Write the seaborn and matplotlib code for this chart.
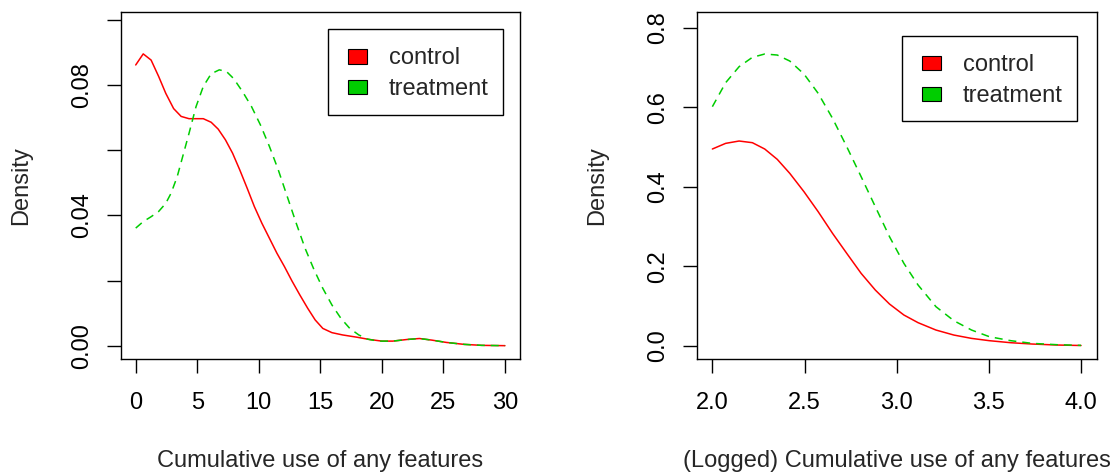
import numpy as np
import pandas as pd
import matplotlib
matplotlib.use("Agg")
import matplotlib.pyplot as plt
import matplotlib.patches as mpatches
from matplotlib.legend_handler import HandlerPatch
import seaborn as sns

# ---------------- data ----------------
raw_x_control = [0.0, 0.61, 1.25, 1.86, 2.44, 3.08, 3.69, 4.33, 4.9, 5.49, 6.13, 6.7, 7.29,
                 7.87, 8.45, 9.06, 9.64, 10.25, 10.86, 11.47, 12.08, 12.69, 13.33, 13.97,
                 14.58, 15.2, 15.94, 16.8, 17.97, 18.99, 20.0, 20.88, 22.04, 23.05, 24.07,
                 25.23, 26.68, 28.1, 30.0]
raw_y_control = [0.0862, 0.0896, 0.0877, 0.0827, 0.0775, 0.0728, 0.0704, 0.0697, 0.0697,
                 0.0697, 0.0686, 0.0665, 0.0632, 0.0591, 0.0540, 0.0483, 0.0427, 0.0376,
                 0.0330, 0.0284, 0.0243, 0.0199, 0.0156, 0.0115, 0.0079, 0.0053, 0.0040,
                 0.0033, 0.0026, 0.0019, 0.0014, 0.0014, 0.0019, 0.0022, 0.0017, 0.0010,
                 0.0004, 0.0001, 0.0000]
raw_x_treatment = [0.0, 0.61, 1.25, 1.86, 2.44, 2.87, 3.37, 3.89, 4.33, 4.9, 5.49, 6.13,
                   6.79, 7.37, 7.96, 8.68, 9.41, 10.13, 10.86, 11.58, 12.31, 13.04, 13.76,
                   14.49, 15.2, 15.94, 16.67, 17.39, 18.12, 18.84, 19.71, 20.88, 22.04,
                   23.05, 24.07, 25.23, 26.68, 28.1, 30.0]
raw_y_treatment = [0.0361, 0.0381, 0.0396, 0.0412, 0.0437, 0.0468, 0.0519, 0.0591, 0.0652,
                   0.0734, 0.0796, 0.0835, 0.0847, 0.0842, 0.0820, 0.0780, 0.0734, 0.0678,
                   0.0612, 0.0540, 0.0458, 0.0376, 0.0299, 0.0233, 0.0176, 0.0125, 0.0084,
                   0.0053, 0.0033, 0.0020, 0.0014, 0.0014, 0.0019, 0.0022, 0.0017, 0.0010,
                   0.0004, 0.0001, 0.0000]

log_x = [2.0, 2.072, 2.145, 2.217, 2.284, 2.352, 2.42, 2.497, 2.574, 2.652, 2.729, 2.807,
         2.884, 2.961, 3.039, 3.116, 3.213, 3.31, 3.406, 3.503, 3.619, 3.735, 3.87, 4.0]
log_y_control = [0.4948, 0.5090, 0.5149, 0.5107, 0.4948, 0.4688, 0.4335, 0.3874, 0.3371,
                 0.2826, 0.2323, 0.1820, 0.1400, 0.1048, 0.0772, 0.0579, 0.0394, 0.0268,
                 0.0184, 0.0126, 0.0075, 0.0042, 0.0017, 0.0005]
log_y_treatment = [0.6013, 0.6616, 0.7019, 0.7254, 0.7338, 0.7312, 0.7161, 0.6834, 0.6348,
                   0.5719, 0.5006, 0.4252, 0.3497, 0.2742, 0.2071, 0.1526, 0.0981, 0.0629,
                   0.0394, 0.0226, 0.0126, 0.0059, 0.0025, 0.0008]

groups = ["control", "treatment"]
left_xticks = [0, 5, 10, 15, 20, 25, 30]
left_yticks = [0.00, 0.02, 0.04, 0.06, 0.08, 0.10]
left_yticklabels = ["0.00", "", "0.04", "", "0.08", ""]
right_xticks = [2.0, 2.5, 3.0, 3.5, 4.0]
right_xticklabels = ["2.0", "2.5", "3.0", "3.5", "4.0"]
right_yticks = [0.0, 0.2, 0.4, 0.6, 0.8]
right_yticklabels = ["0.0", "0.2", "0.4", "0.6", "0.8"]
xlabel_left = "Cumulative use of any features"
xlabel_right = "(Logged) Cumulative use of any features"
ylabel = "Density"

colors = {"control": "#FF0000", "treatment": "#00CD00"}

# ---------------- style ----------------
sns.set_style("white")
plt.rcParams["font.family"] = ["Liberation Sans", "DejaVu Sans"]
FS = 17

W, H = 1117, 475
fig = plt.figure(figsize=(W / 100, H / 100), dpi=100)

def px_axes(l, t, r, b):
    return fig.add_axes([l / W, 1 - b / H, (r - l) / W, (b - t) / H])

axL = px_axes(120.7, 12.3, 520.0, 358.7)
axR = px_axes(696.7, 12.3, 1096.7, 358.7)

dfL = pd.concat([
    pd.DataFrame({"x": raw_x_control, "y": raw_y_control, "group": "control"}),
    pd.DataFrame({"x": raw_x_treatment, "y": raw_y_treatment, "group": "treatment"}),
])
dfR = pd.concat([
    pd.DataFrame({"x": log_x, "y": log_y_control, "group": "control"}),
    pd.DataFrame({"x": log_x, "y": log_y_treatment, "group": "treatment"}),
])

LW = 1.1

def square_handle(legend, orig_handle, xdescent, ydescent, width, height, fontsize):
    w, h = 13.0, 10.1
    return mpatches.Rectangle((width - xdescent - w, (height - h) / 2 - ydescent), w, h)

def draw(ax, df, xlim, ylim, xticks, xtl, yticks, ytl, xlabel, leg_anchor):
    for g in groups:
        sub = df[df["group"] == g]
        sns.lineplot(data=sub, x="x", y="y", ax=ax, color=colors[g], linewidth=LW,
                     linestyle="-" if g == "control" else (0, (5.2, 3.9)),
                     estimator=None, sort=False, legend=False)
    ax.set_xlim(*xlim)
    ax.set_ylim(*ylim)
    ax.set_xticks(xticks)
    ax.set_xticklabels(xtl, fontsize=FS)
    ax.set_yticks(yticks)
    ax.set_yticklabels(ytl, fontsize=FS, rotation=90, va="center")
    ax.tick_params(axis="both", direction="out", length=10.3, width=1.0, color="black",
                   labelcolor="black")
    ax.tick_params(axis="x", pad=14.0, bottom=True)
    ax.tick_params(axis="y", pad=9.5, left=True)
    for s in ax.spines.values():
        s.set_visible(True)
        s.set_color("black")
        s.set_linewidth(1.0)
    ax.set_xlabel(xlabel, fontsize=FS, va="center")
    ax.xaxis.set_label_coords(0.5, (358.7 - 461.0) / 346.4)
    ax.set_ylabel(ylabel, fontsize=FS, va="center", ha="center")
    ax.yaxis.set_label_coords(-100.0 / 400.0, 0.5)
    handles = [mpatches.Patch(facecolor=colors[g], edgecolor="black", linewidth=0.8)
               for g in groups]
    leg = ax.legend(handles, groups, loc="upper left", bbox_to_anchor=leg_anchor,
                    bbox_transform=ax.transAxes, borderaxespad=0, fontsize=FS,
                    frameon=True, fancybox=False, shadow=False, framealpha=1,
                    edgecolor="black", borderpad=0.62, handlelength=1.0,
                    handleheight=1.3, handletextpad=0.93, labelspacing=0.2,
                    handler_map={mpatches.Patch: HandlerPatch(patch_func=square_handle)})
    leg.get_frame().set_linewidth(1.0)

draw(axL, dfL, (-1.22, 31.22), (-0.0040, 0.10237), left_xticks, [str(t) for t in left_xticks],
     left_yticks, left_yticklabels, xlabel_left,
     ((328.3 - 120.7) / 399.3, (358.7 - 29.0) / 346.4))
draw(axR, dfR, (1.915, 4.085), (-0.0327, 0.8387), right_xticks, right_xticklabels,
     right_yticks, right_yticklabels, xlabel_right,
     ((902.3 - 696.7) / 400.0, (358.7 - 35.7) / 346.4))

fig.savefig("out.png", dpi=100, facecolor="white")
